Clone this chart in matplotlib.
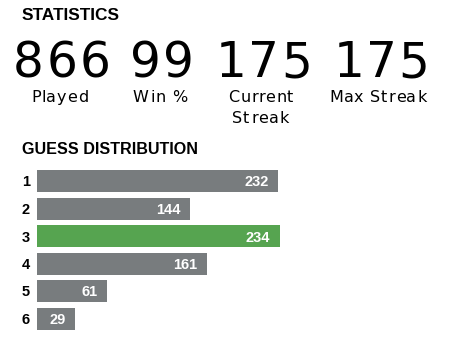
import matplotlib
matplotlib.use("Agg")
import matplotlib.pyplot as plt
from matplotlib.font_manager import FontProperties, findfont
from matplotlib.ft2font import FT2Font

# Summary numbers
stat_values = ["866", "99", "175", "175"]
stat_labels = ["Played", "Win %", "Current\nStreak", "Max Streak"]

# Guess distribution
guesses = ["1", "2", "3", "4", "5", "6"]
counts = [232, 144, 234, 161, 61, 29]
highlight = "3"

GRAY = "#787c7e"
GREEN = "#56a450"
HEAD_FONT = ["Liberation Sans", "DejaVu Sans"]
BODY_FONT = "DejaVu Sans"
DPI = 100

W, H = 451, 348
fig = plt.figure(figsize=(W / DPI, H / DPI), dpi=DPI)

# Overlay axes in pixel coordinates for the headings and stat blocks
ov = fig.add_axes([0, 0, 1, 1])
ov.set_xlim(0, W)
ov.set_ylim(H, 0)
ov.axis("off")


def tracked_text(ax, cx, y, s, size, tracking, family=BODY_FONT, **kw):
    """Draw s centred on cx with extra letter spacing (pixels) between glyphs."""
    font = FT2Font(findfont(FontProperties(family=family)))
    font.set_size(size, DPI)
    glyphs = [font.load_char(ord(c)) for c in s]
    adv = [g.linearHoriAdvance / 65536 for g in glyphs]
    lsb = [g.horiBearingX / 64 for g in glyphs]
    ink_right = glyphs[-1].horiBearingX / 64 + glyphs[-1].width / 64
    total = sum(adv[:-1]) + tracking * (len(s) - 1) + ink_right - lsb[0]
    x = cx - total / 2 - lsb[0]
    for c, a, l in zip(s, adv, lsb):
        if c != " ":
            ax.text(x + l, y, c, family=family, fontsize=size, ha="left",
                    va="baseline", **kw)
        x += a + tracking


ov.text(22, 20, "STATISTICS", family=HEAD_FONT, weight="bold", fontsize=12.4,
        ha="left", va="baseline", color="#000000")
ov.text(22, 154, "GUESS DISTRIBUTION", family=HEAD_FONT, weight="bold",
        fontsize=11.6, ha="left", va="baseline", color="#000000")

centers = [58.5, 159, 260, 377.5]
for cx, val, lab in zip(centers, stat_values, stat_labels):
    tracked_text(ov, cx, 77.3, val, 35, 2.2, color="#000000")
    for k, line in enumerate(lab.split("\n")):
        tracked_text(ov, cx, 102.3 + 20.5 * k, line, 11.5, 0.8, color="#000000")

# Bar axes: 1 px per count, bars carry a small fixed lead-in before zero
pad = 9
top_px, bottom_px = 167.25, 332.25
left_px = 37
ax = fig.add_axes([left_px / W, (H - bottom_px) / H, (W - left_px) / W,
                   (bottom_px - top_px) / H])
ax.set_xlim(-pad, W - left_px - pad)
ax.set_ylim(len(guesses) - 0.5, -0.5)
ax.axis("off")

ypos = list(range(len(guesses)))
colors = [GREEN if g == highlight else GRAY for g in guesses]
ax.barh(ypos, [c + pad for c in counts], left=-pad, height=0.8,
        color=colors, edgecolor="none")

for y, g, c in zip(ypos, guesses, counts):
    ax.text(-24, y + 0.2, g, family=HEAD_FONT, weight="bold", fontsize=10.5,
            ha="left", va="baseline", color="#000000")
    ax.text(c - 9.5, y + 0.2, str(c), family=HEAD_FONT, weight="bold",
            fontsize=10.5, ha="right", va="baseline", color="#ffffff")

fig.savefig("out.png", dpi=DPI, facecolor="white")
